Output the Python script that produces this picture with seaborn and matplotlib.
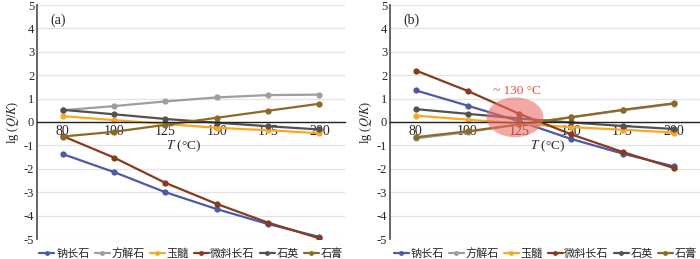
import matplotlib
matplotlib.use("Agg")
import matplotlib.pyplot as plt
from matplotlib.patches import Ellipse
import seaborn as sns
import pandas as pd
import numpy as np

temps = ["80", "100", "125", "150", "175", "200"]
minerals = ["钠长石", "方解石", "玉髓", "微斜长石", "石英", "石膏"]
colors = ["#4A5BA8", "#A29C9B", "#F8A826", "#8A3A1C", "#55504E", "#8C6A24"]

# panel (a)
a_albite = [-1.37, -2.14, -3.00, -3.72, -4.36, -4.91]
a_calcite = [0.50, 0.68, 0.88, 1.05, 1.15, 1.17]
a_chalcedony = [0.25, 0.08, -0.08, -0.25, -0.35, -0.48]
a_microcline = [-0.60, -1.52, -2.60, -3.50, -4.30, -4.97]
a_quartz = [0.52, 0.33, 0.13, -0.03, -0.18, -0.32]
a_gypsum = [-0.62, -0.42, -0.12, 0.18, 0.48, 0.78]

# panel (b)
b_albite = [1.35, 0.70, 0.03, -0.72, -1.35, -1.90]
b_calcite = [-0.70, -0.43, -0.10, 0.20, 0.50, 0.78]
b_chalcedony = [0.27, 0.10, -0.07, -0.22, -0.33, -0.45]
b_microcline = [2.20, 1.33, 0.35, -0.52, -1.28, -1.97]
b_quartz = [0.55, 0.35, 0.15, -0.02, -0.17, -0.30]
b_gypsum = [-0.65, -0.40, -0.10, 0.20, 0.52, 0.80]

panel_a = [a_albite, a_calcite, a_chalcedony, a_microcline, a_quartz, a_gypsum]
panel_b = [b_albite, b_calcite, b_chalcedony, b_microcline, b_quartz, b_gypsum]

sns.set_style("white")
plt.rcParams["font.family"] = ["Liberation Serif", "Noto Sans CJK SC"]
plt.rcParams["mathtext.fontset"] = "stix"


def make_df(series):
    rows = []
    for m, vals in zip(minerals, series):
        for i, v in enumerate(vals):
            rows.append({"idx": i, "T": temps[i], "mineral": m, "val": v})
    return pd.DataFrame(rows)


fig = plt.figure(figsize=(7.0, 2.59), dpi=100)
ax_a = fig.add_axes([37 / 700, 20 / 259, 308 / 700, 234 / 259])
ax_b = fig.add_axes([390 / 700, 20 / 259, 310 / 700, 234 / 259])

for ax, series, tag, tx in [(ax_a, panel_a, "(a)", 2.35), (ax_b, panel_b, "(b)", 2.55)]:
    df = make_df(series)
    sns.lineplot(data=df, x="idx", y="val", hue="mineral", hue_order=minerals,
                 palette=colors, marker="o", markersize=4.5, markeredgewidth=0,
                 linewidth=1.6, ax=ax, legend=True, sort=False)
    ax.set_xlim(-0.5, 5.5)
    ax.set_ylim(-5, 5)
    ax.set_yticks(range(-5, 6))
    ax.set_yticklabels([str(v) for v in range(-5, 6)], fontsize=9)
    ax.set_xticks(range(6))
    ax.set_xticklabels(temps, fontsize=9)
    ax.yaxis.grid(True, color="#E3E3E3", linewidth=0.9)
    ax.set_axisbelow(True)
    for s in ["top", "right"]:
        ax.spines[s].set_visible(False)
    ax.spines["left"].set_color("#5A5A5A")
    ax.spines["left"].set_linewidth(1.3)
    ax.spines["bottom"].set_position(("data", 0))
    ax.spines["bottom"].set_color("#222222")
    ax.spines["bottom"].set_linewidth(1.0)
    ax.tick_params(axis="both", length=0, pad=2)
    ax.tick_params(axis="x", pad=2)
    ax.set_xlabel("")
    ax.set_ylabel("lg ($\\mathit{Q/K}$)", fontsize=9, labelpad=2)
    ax.text(0.07, 0.935, tag, transform=ax.transAxes, fontsize=10, va="center", ha="center")
    ax.text(tx, -1.02, "$\\mathit{T}$ (°C)", fontsize=9.5, ha="center", va="center")
    h, l = ax.get_legend_handles_labels()
    for hh in h:
        hh.set_markersize(3.5)
    ax.legend(h, l, loc="center", bbox_to_anchor=(0.5, -0.06), ncol=6, frameon=False,
              fontsize=8, handlelength=1.35, handletextpad=0.15, columnspacing=0.45,
              borderaxespad=0)

ax_b.add_patch(Ellipse((1.92, 0.2), 1.1, 1.7, facecolor="#EE6E66", alpha=0.6,
                       edgecolor="none", zorder=5))
ax_b.text(1.95, 1.32, "~ 130 °C", color="#EE4B3E", fontsize=9.5, ha="center", va="center")

fig.savefig("out.png", dpi=100)
